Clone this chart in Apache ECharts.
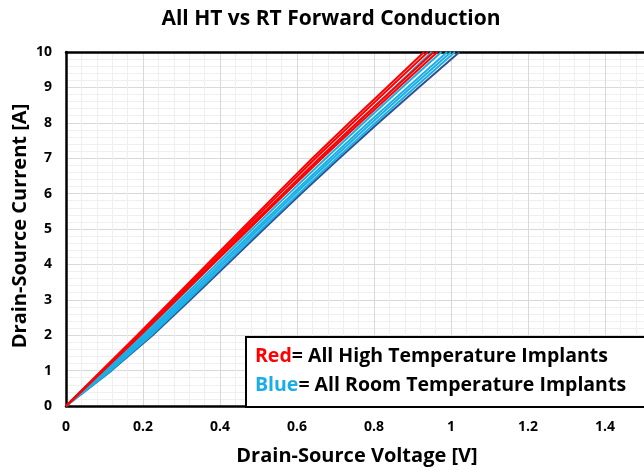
<html>
<head>
<meta charset="utf-8">
<title>All HT vs RT Forward Conduction</title>
<script src="https://cdn.jsdelivr.net/npm/echarts@6/dist/echarts.min.js"></script>
<style>
  body { margin: 0; background: #fff; overflow: hidden; }
  /* plot runs past the right edge of the window, like the original screenshot */
  #chart { width: 700px; height: 470px; }
</style>
</head>
<body>
<div id="chart"></div>
<script>
// current points (A) shared by every curve
var current = [0, 1, 2, 3, 4, 5, 6, 7, 8, 9, 10];

// high temperature implants (red), voltage in V at each current
var redCurves = [
  [0, 0.092, 0.185, 0.276, 0.366, 0.457, 0.548, 0.640, 0.736, 0.833, 0.930],
  [0, 0.094, 0.188, 0.280, 0.371, 0.463, 0.555, 0.648, 0.745, 0.842, 0.940],
  [0, 0.096, 0.191, 0.284, 0.377, 0.470, 0.564, 0.658, 0.756, 0.855, 0.955],
  [0, 0.097, 0.193, 0.287, 0.381, 0.475, 0.570, 0.665, 0.764, 0.864, 0.965]
];

// room temperature implants (light blue)
var blueCurves = [
  [0, 0.100, 0.197, 0.290, 0.382, 0.474, 0.566, 0.660, 0.756, 0.853, 0.950],
  [0, 0.104, 0.204, 0.298, 0.391, 0.484, 0.579, 0.675, 0.773, 0.873, 0.975],
  [0, 0.108, 0.210, 0.305, 0.399, 0.493, 0.589, 0.686, 0.785, 0.887, 0.990],
  [0, 0.112, 0.216, 0.312, 0.406, 0.500, 0.596, 0.694, 0.794, 0.896, 1.000],
  [0, 0.116, 0.221, 0.318, 0.413, 0.508, 0.605, 0.703, 0.804, 0.906, 1.010]
];

// room temperature implant (dark blue)
var darkCurves = [
  [0, 0.118, 0.225, 0.323, 0.419, 0.514, 0.611, 0.710, 0.812, 0.916, 1.022]
];

var xMax = 1.6;
var yMax = 10;

function toPairs(volts) {
  return volts.map(function (v, i) { return [v, current[i]]; });
}

var series = [];
function addCurves(list, color) {
  list.forEach(function (volts) {
    series.push({
      type: 'line',
      data: toPairs(volts),
      showSymbol: false,
      lineStyle: { color: color, width: 2 },
      silent: true
    });
  });
}
addCurves(darkCurves, '#2f4f8f');
addCurves(blueCurves, '#1aaee6');
addCurves(redCurves, '#ff0000');

var font = '"Open Sans", "DejaVu Sans", sans-serif';
var tickLabel = { color: '#000', fontFamily: font, fontSize: 14, fontWeight: 'bold', margin: 14 };
var chart = echarts.init(document.getElementById('chart'));
chart.setOption({
  animation: false,
  backgroundColor: '#fff',
  title: {
    text: 'All HT vs RT Forward Conduction',
    left: 326, top: 4, textAlign: 'center',
    textStyle: { fontFamily: font, fontSize: 21, fontWeight: 'bold', color: '#000' }
  },
  grid: { left: 66, top: 52, bottom: 64, right: 18 },
  xAxis: [{
    type: 'value',
    min: 0, max: xMax, interval: 0.2,
    axisLine: { show: true, lineStyle: { color: '#000', width: 2.5 } },
    axisTick: { show: false },
    axisLabel: tickLabel,
    splitLine: { show: true, lineStyle: { color: '#d9d9d9', width: 1 } },
    minorTick: { show: false, splitNumber: 5 },
    minorSplitLine: { show: true, lineStyle: { color: '#efefef', width: 1 } }
  }, {
    // top border of the plot
    type: 'value', position: 'top',
    min: 0, max: xMax,
    axisLine: { show: true, onZero: false, lineStyle: { color: '#000', width: 2.5 } },
    axisTick: { show: false },
    axisLabel: { show: false },
    splitLine: { show: false }
  }],
  yAxis: {
    type: 'value',
    min: 0, max: yMax, interval: 1,
    axisLine: { show: true, lineStyle: { color: '#000', width: 2.5 } },
    axisTick: { show: false },
    axisLabel: tickLabel,
    splitLine: { show: true, lineStyle: { color: '#d9d9d9', width: 1 } },
    minorTick: { show: false, splitNumber: 5 },
    minorSplitLine: { show: true, lineStyle: { color: '#efefef', width: 1 } }
  },
  graphic: [
    {
      type: 'text', z: 100,
      x: 357, y: 456,
      style: {
        text: 'Drain-Source Voltage [V]',
        textAlign: 'center', textVerticalAlign: 'middle',
        fontFamily: font, fontSize: 20, fontWeight: 'bold', fill: '#000'
      }
    },
    {
      type: 'text', z: 100,
      x: 20, y: 226, rotation: Math.PI / 2,
      style: {
        text: 'Drain-Source Current [A]',
        textAlign: 'center', textVerticalAlign: 'middle',
        fontFamily: font, fontSize: 20, fontWeight: 'bold', fill: '#000'
      }
    },
    {
      type: 'rect', z: 90,
      shape: { x: 246, y: 337, width: 440, height: 70 },
      style: { fill: '#fff', stroke: '#000', lineWidth: 2 }
    },
    {
      type: 'text', z: 95,
      x: 255, y: 356,
      style: {
        text: '{r|Red}{k|= All High Temperature Implants}',
        textVerticalAlign: 'middle',
        rich: {
          r: { fontFamily: font, fontSize: 19.5, fontWeight: 'bold', fill: '#ff0000' },
          k: { fontFamily: font, fontSize: 19.5, fontWeight: 'bold', fill: '#000' }
        }
      }
    },
    {
      type: 'text', z: 95,
      x: 255, y: 385,
      style: {
        text: '{b|Blue}{k|= All Room Temperature Implants}',
        textVerticalAlign: 'middle',
        rich: {
          b: { fontFamily: font, fontSize: 19.5, fontWeight: 'bold', fill: '#1aaee6' },
          k: { fontFamily: font, fontSize: 19.5, fontWeight: 'bold', fill: '#000' }
        }
      }
    }
  ],
  series: series
});
</script>
</body>
</html>
